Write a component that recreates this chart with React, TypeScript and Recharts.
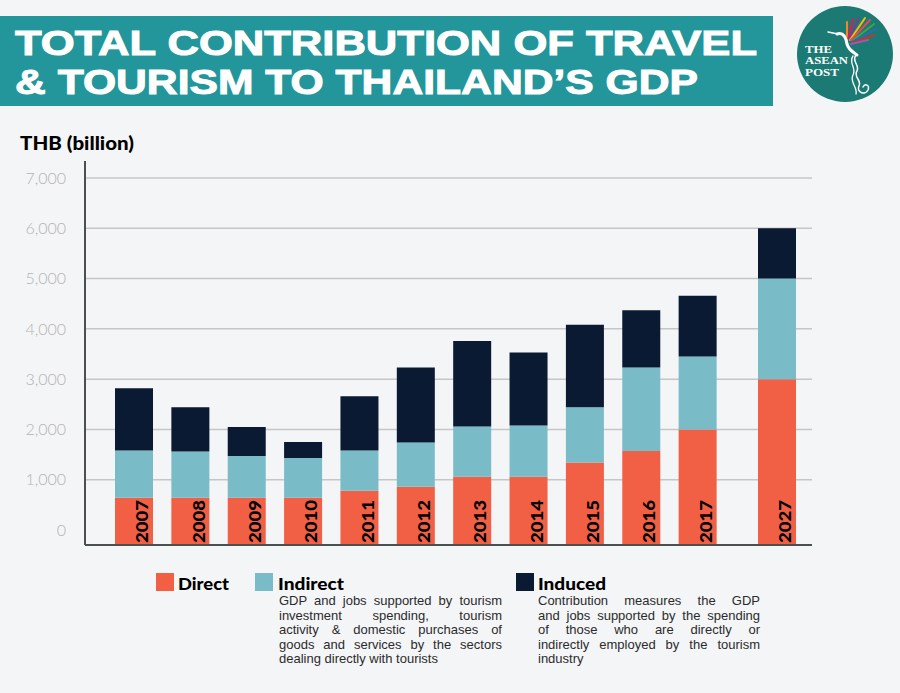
import React from 'react';
import { BarChart, Bar, XAxis, YAxis, CartesianGrid } from 'recharts';

// ---------- data ----------
const HIST_YEARS = ['2007', '2008', '2009', '2010', '2011', '2012', '2013', '2014', '2015', '2016', '2017'];
const FORECAST_YEARS = ['2027'];
const DIRECT = [640, 640, 640, 640, 780, 860, 1060, 1060, 1340, 1570, 2000, 3000];
const INDIRECT = [940, 920, 830, 790, 800, 880, 1000, 1020, 1100, 1660, 1450, 2000];
const INDUCED = [1240, 880, 580, 320, 1080, 1490, 1700, 1450, 1640, 1140, 1210, 1000];
const Y_TICKS = [0, 1000, 2000, 3000, 4000, 5000, 6000, 7000];
const GRID_VALUES = [1000, 2000, 3000, 4000, 5000, 6000, 7000];
const Y_FLOOR = -300;
const Y_CEIL = 7340;

const TITLE_LINES = ['TOTAL CONTRIBUTION OF TRAVEL', '& TOURISM TO THAILAND’S GDP'];
const LOGO_LINES = ['THE', 'ASEAN', 'POST'];
const INDIRECT_DESC = [
  'GDP and jobs supported by tourism',
  'investment spending, tourism',
  'activity & domestic purchases of',
  'goods and services by the sectors',
  'dealing directly with tourists',
];
const INDUCED_DESC = [
  'Contribution measures the GDP',
  'and jobs supported by the spending',
  'of those who are directly or',
  'indirectly employed by the tourism',
  'industry',
];

const CATEGORIES = [...HIST_YEARS, ...FORECAST_YEARS];
const rows = CATEGORIES.map((year, i) => ({
  year,
  direct: DIRECT[i],
  indirect: INDIRECT[i],
  induced: INDUCED[i],
}));
const histRows = rows.slice(0, HIST_YEARS.length);
const forecastRows = rows.slice(HIST_YEARS.length);

// ---------- styles ----------
const C_DIRECT = '#f15f45';
const C_INDIRECT = '#79bcc8';
const C_INDUCED = '#0a1a32';
const BG = '#f4f5f7';
const AXIS = '#4a4f52';
const GRID = '#c6c6c6';
const BAR = 38;

const directKey = (r: any) => [Y_FLOOR, r.direct];
const indirectKey = (r: any) => [r.direct, r.direct + r.indirect];
const inducedKey = (r: any) => [r.direct + r.indirect, r.direct + r.indirect + r.induced];

const YearTick = (props: any) => {
  const { x, y, payload } = props;
  return (
    <text
      transform={`translate(${x + 14},${y - 2}) rotate(-90)`}
      textAnchor="start"
      fontFamily="Lato, 'Open Sans', sans-serif"
      fontWeight={900}
      fontSize={16}
      textLength={43}
      lengthAdjust="spacingAndGlyphs"
      fill="#000"
    >
      {payload.value}
    </text>
  );
};

const bars = [
  <Bar key="d" dataKey={directKey} fill={C_DIRECT} barSize={BAR} isAnimationActive={false} />,
  <Bar key="i" dataKey={indirectKey} fill={C_INDIRECT} barSize={BAR} isAnimationActive={false} />,
  <Bar key="n" dataKey={inducedKey} fill={C_INDUCED} barSize={BAR} isAnimationActive={false} />,
];

const MARGIN = { top: 11, right: 0, bottom: 10, left: 0 };

const DescBlock = ({ lines, left, width }: { lines: string[]; left: number; width: number }) => (
  <div style={{ position: 'absolute', left, top: 594, width }}>
    {lines.map((ln, i) => (
      <div
        key={i}
        style={{
          height: 14.6,
          lineHeight: '14.6px',
          fontFamily: "'Liberation Sans', Arial, sans-serif",
          fontSize: 13,
          color: '#2b2b2b',
          whiteSpace: 'nowrap',
          textAlign: i === lines.length - 1 ? 'left' : 'justify',
          textAlignLast: i === lines.length - 1 ? 'left' : 'justify',
        } as any}
      >
        {ln}
      </div>
    ))}
  </div>
);

export default function App() {
  return (
    <div style={{ position: 'absolute', left: 0, top: 0, width: 900, height: 693, background: BG, overflow: 'hidden' }}>
      <svg width={900} height={693} style={{ position: 'absolute', left: 0, top: 0 }}>
        {/* title banner */}
        <rect x={0} y={16} width={773} height={90} fill="#22969a" />
        <g fill="#fff" stroke="#fff" strokeWidth={1} fontFamily="'Liberation Sans', Arial, sans-serif" fontWeight={700} fontSize={34.5}>
          <text x={15} y={55} textLength={742} lengthAdjust="spacingAndGlyphs">{TITLE_LINES[0]}</text>
          <text x={15} y={94} textLength={683} lengthAdjust="spacingAndGlyphs">{TITLE_LINES[1]}</text>
        </g>

        {/* logo */}
        <circle cx={845} cy={54} r={48} fill="#1b7a73" />
        <g strokeWidth={2} strokeLinecap="round">
          <line x1={847} y1={39} x2={847} y2={22} stroke="#f08a24" />
          <line x1={848} y1={39} x2={853} y2={19} stroke="#d81f4f" />
          <line x1={849} y1={39} x2={859} y2={18} stroke="#7a3d97" />
          <line x1={850} y1={40} x2={865} y2={18} stroke="#f2c200" />
          <line x1={851} y1={40} x2={870} y2={20} stroke="#e6475a" />
          <line x1={852} y1={41} x2={874} y2={24} stroke="#3aa843" />
          <line x1={852} y1={42} x2={876} y2={29} stroke="#2b6cb0" />
          <line x1={852} y1={43} x2={874} y2={35} stroke="#c0392b" />
          <line x1={851} y1={44} x2={868} y2={40} stroke="#9b59b6" />
        </g>
        <g stroke="#ffffff" fill="none" strokeLinecap="round">
          <path d="M828 32 L838 34" strokeWidth={1.5} />
          <path d="M837 34 C844 32 846 38 847 44 C849 51 854 52 857 55" strokeWidth={3} />
          <path d="M856 55 C851 61 860 65 857 71 C853 77 862 80 859 86 C856 92 865 96 868 90 C870 85 865 83 863 87" strokeWidth={1.5} />
          <path d="M853 56 C848 63 857 68 853 75 C849 82 858 87 856 94" strokeWidth={1.3} />
        </g>
        <g fill="#fff" fontFamily="'Liberation Serif', 'DejaVu Serif', serif" fontWeight={700} fontSize={10}>
          <text x={805} y={52.5} textLength={27} lengthAdjust="spacingAndGlyphs">{LOGO_LINES[0]}</text>
          <text x={805} y={64} textLength={43} lengthAdjust="spacingAndGlyphs">{LOGO_LINES[1]}</text>
          <text x={805} y={75.5} textLength={34} lengthAdjust="spacingAndGlyphs">{LOGO_LINES[2]}</text>
        </g>

        {/* axis title */}
        <text x={20} y={150} fill="#000" fontFamily="Lato, 'Open Sans', sans-serif" fontWeight={900} fontSize={18} textLength={114} lengthAdjust="spacingAndGlyphs">
          THB (billion)
        </text>

        {/* legend */}
        <rect x={156} y={573} width={18} height={18} fill={C_DIRECT} />
        <text x={178} y={590} fill="#000" fontFamily="Lato, 'Open Sans', sans-serif" fontWeight={900} fontSize={16} textLength={51} lengthAdjust="spacingAndGlyphs">Direct</text>
        <rect x={255} y={573} width={18} height={18} fill={C_INDIRECT} />
        <text x={278} y={590} fill="#000" fontFamily="Lato, 'Open Sans', sans-serif" fontWeight={900} fontSize={16} textLength={66} lengthAdjust="spacingAndGlyphs">Indirect</text>
        <rect x={516} y={573} width={18} height={18} fill={C_INDUCED} />
        <text x={538} y={590} fill="#000" fontFamily="Lato, 'Open Sans', sans-serif" fontWeight={900} fontSize={16} textLength={68} lengthAdjust="spacingAndGlyphs">Induced</text>
      </svg>

      <DescBlock lines={INDIRECT_DESC} left={279} width={223} />
      <DescBlock lines={INDUCED_DESC} left={538} width={222} />

      {/* historical years */}
      <div style={{ position: 'absolute', left: 0, top: 150 }}>
        <BarChart width={742} height={410} data={histRows} margin={MARGIN} barGap={-BAR} barSize={BAR}>
          <CartesianGrid vertical={false} horizontalValues={GRID_VALUES} stroke={GRID} strokeWidth={1.5} />
          <YAxis
            width={85}
            type="number"
            domain={[Y_FLOOR, Y_CEIL]}
            ticks={Y_TICKS}
            interval={0}
            allowDataOverflow
            tickLine={false}
            tickSize={0}
            tickMargin={19}
            axisLine={{ stroke: AXIS, strokeWidth: 2 }}
            tickFormatter={(v: number) => v.toLocaleString('en-US')}
            tick={{ fill: '#b3b3b3', fontSize: 16, fontFamily: "Lato, 'Open Sans', sans-serif", fontWeight: 300 }}
          />
          {bars}
          <XAxis
            dataKey="year"
            type="category"
            height={5}
            padding={{ left: 21, right: 16 }}
            interval={0}
            tickLine={false}
            tickSize={0}
            tickMargin={0}
            axisLine={{ stroke: AXIS, strokeWidth: 2 }}
            tick={(p: any) => <YearTick {...p} />}
          />
        </BarChart>
      </div>

      {/* forecast year */}
      <div style={{ position: 'absolute', left: 742, top: 150 }}>
        <BarChart width={70} height={410} data={forecastRows} margin={MARGIN} barGap={-BAR} barSize={BAR}>
          <CartesianGrid vertical={false} horizontalValues={GRID_VALUES} stroke={GRID} strokeWidth={1.5} />
          <YAxis hide type="number" domain={[Y_FLOOR, Y_CEIL]} ticks={Y_TICKS} allowDataOverflow />
          {bars}
          <XAxis
            dataKey="year"
            type="category"
            height={5}
            interval={0}
            tickLine={false}
            tickSize={0}
            tickMargin={0}
            axisLine={{ stroke: AXIS, strokeWidth: 2 }}
            tick={(p: any) => <YearTick {...p} />}
          />
        </BarChart>
      </div>
    </div>
  );
}
